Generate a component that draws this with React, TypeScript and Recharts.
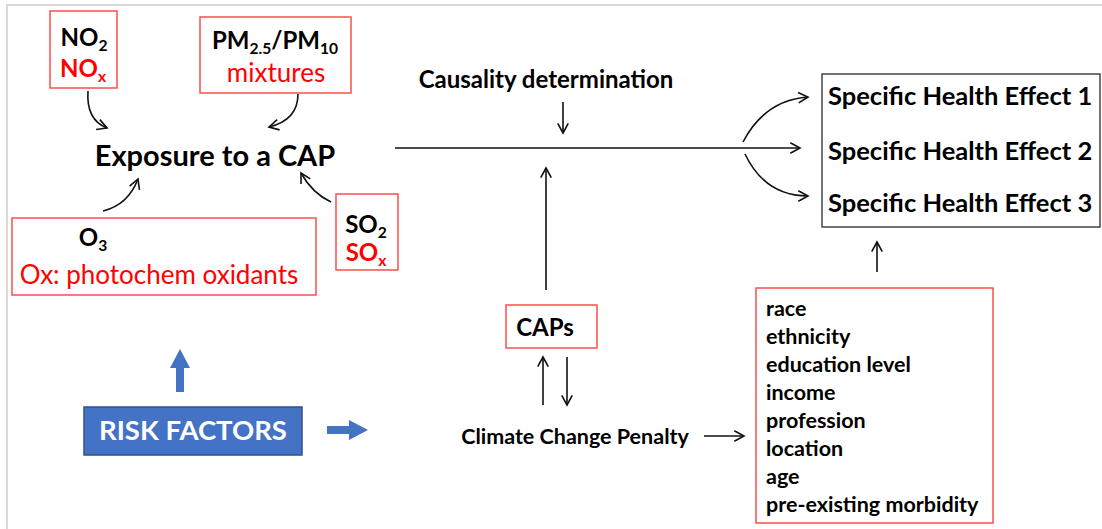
import React from 'react';
import { ScatterChart, Scatter, XAxis, YAxis, ReferenceArea, ReferenceLine } from 'recharts';

// Diagram coordinates follow the original slide: x to the right, y downward.
const WIDTH = 1102;
const HEIGHT = 529;

const healthEffects = ['Specific Health Effect 1', 'Specific Health Effect 2', 'Specific Health Effect 3'];
const effectRowsY = [96, 151, 203];

const modifiers = [
  'race',
  'ethnicity',
  'education level',
  'income',
  'profession',
  'location',
  'age',
  'pre-existing morbidity',
];
const modifierRowsY = [308, 336, 364, 392, 420, 448, 476, 504];

// {..} marks a subscript
const labels = [
  { x: 84, y: 37, text: 'NO{2}', role: 'bold' },
  { x: 83, y: 68, text: 'NO{x}', role: 'boldRed' },
  { x: 275, y: 40, text: 'PM{2.5}/PM{10}', role: 'bold' },
  { x: 276, y: 73, text: 'mixtures', role: 'red' },
  { x: 215, y: 156, text: 'Exposure to a CAP', role: 'title' },
  { x: 93, y: 237, text: 'O{3}', role: 'bold' },
  { x: 159, y: 275, text: 'Ox: photochem oxidants', role: 'red' },
  { x: 366, y: 224, text: 'SO{2}', role: 'bold' },
  { x: 366, y: 252, text: 'SO{x}', role: 'boldRed' },
  { x: 546, y: 79, text: 'Causality determination', role: 'medium' },
  { x: 545, y: 327, text: 'CAPs', role: 'bold' },
  { x: 575, y: 436, text: 'Climate Change Penalty', role: 'small' },
  { x: 193, y: 430, text: 'RISK FACTORS', role: 'risk' },
];

const boxes = [
  { x1: 7, x2: 1110, y1: 5, y2: 540, role: 'frame' },
  { x1: 50, x2: 117, y1: 11, y2: 88, role: 'red' },
  { x1: 200, x2: 351, y1: 17, y2: 93, role: 'red' },
  { x1: 12, x2: 316, y1: 218, y2: 295, role: 'red' },
  { x1: 336, x2: 398, y1: 194, y2: 270, role: 'red' },
  { x1: 822, x2: 1100, y1: 74, y2: 227, role: 'black' },
  { x1: 506, x2: 597, y1: 305, y2: 348, role: 'red' },
  { x1: 756, x2: 993, y1: 288, y2: 523, role: 'red' },
  { x1: 84, x2: 302, y1: 407, y2: 455, role: 'blue' },
];

const straightArrows = [
  { from: [395, 148], to: [800, 148] },
  { from: [563, 102], to: [563, 133] },
  { from: [546, 290], to: [546, 168] },
  { from: [543, 405], to: [543, 357] },
  { from: [567, 357], to: [567, 405] },
  { from: [704, 436], to: [744, 436] },
  { from: [877, 272], to: [877, 242] },
];

const curvedArrows = [
  { from: [743, 142], ctrl: [765, 100], to: [808, 97] },
  { from: [745, 154], ctrl: [765, 196], to: [808, 196] },
  { from: [88, 91], ctrl: [86, 120], to: [107, 128] },
  { from: [298, 94], ctrl: [298, 120], to: [269, 127] },
  { from: [103, 211], ctrl: [128, 205], to: [138, 179] },
  { from: [331, 202], ctrl: [312, 193], to: [301, 173] },
];

const blockArrows = [
  { from: [180, 392], to: [180, 349] },
  { from: [327, 430], to: [368, 430] },
];

const FONT = 'Lato, "Open Sans", sans-serif';
const RED = '#ff0000';
const BLUE = '#4472c4';

const roleStyle: Record<string, any> = {
  bold: { size: 24, weight: 700, fill: '#000' },
  boldRed: { size: 24, weight: 700, fill: RED },
  red: { size: 26, weight: 400, fill: RED },
  title: { size: 29, weight: 700, fill: '#000' },
  medium: { size: 24, weight: 700, fill: '#000' },
  effect: { size: 25.5, weight: 700, fill: '#000', anchor: 'start' },
  modifier: { size: 21.5, weight: 700, fill: '#000', anchor: 'start' },
  small: { size: 21.5, weight: 700, fill: '#000' },
  risk: { size: 27.5, weight: 700, fill: '#fff' },
};

const boxStyle: Record<string, any> = {
  frame: { stroke: '#d9d9d9', fill: 'none', strokeWidth: 2 },
  red: { stroke: '#ff4d4d', fill: 'none', strokeWidth: 1.5 },
  black: { stroke: '#444', fill: 'none', strokeWidth: 1.5 },
  blue: { stroke: '#2f528f', fill: BLUE, strokeWidth: 1.5 },
};

const allLabels = [
  ...labels,
  ...healthEffects.map((text, i) => ({ x: 828, y: effectRowsY[i], text, role: 'effect' })),
  ...modifiers.map((text, i) => ({ x: 766, y: modifierRowsY[i], text, role: 'modifier' })),
];

function richText(text: string, size: number) {
  const parts = text.split(/(\{[^}]*\})/).filter(Boolean);
  const shift = size * 0.22;
  let down = false;
  return parts.map((part, i) => {
    const sub = part.startsWith('{');
    const dy = sub ? shift : down ? -shift : 0;
    down = sub;
    return (
      <tspan key={i} dy={dy} fontSize={sub ? size * 0.65 : size}>
        {sub ? part.slice(1, -1) : part}
      </tspan>
    );
  });
}

const LabelShape = (props: any) => {
  const { cx, cy, payload } = props;
  const s = roleStyle[payload.role];
  return (
    <text
      x={cx}
      y={cy + s.size * 0.36}
      textAnchor={s.anchor || 'middle'}
      fontFamily={FONT}
      fontWeight={s.weight}
      fontSize={s.size}
      fill={s.fill}
    >
      {richText(payload.text, s.size)}
    </text>
  );
};

function head(x: number, y: number, dx: number, dy: number, len = 11, spread = 0.5) {
  const a = Math.atan2(dy, dx);
  const p1 = [x - len * Math.cos(a - spread), y - len * Math.sin(a - spread)];
  const p2 = [x - len * Math.cos(a + spread), y - len * Math.sin(a + spread)];
  return `M${p1[0]},${p1[1]} L${x},${y} L${p2[0]},${p2[1]}`;
}

const straightShape = (p: any) => (
  <g>
    <line x1={p.x1} y1={p.y1} x2={p.x2} y2={p.y2} stroke="#111" strokeWidth={1.6} />
    <path d={head(p.x2, p.y2, p.x2 - p.x1, p.y2 - p.y1)} stroke="#111" strokeWidth={1.6} fill="none" />
  </g>
);

const curveShape = (c: any) => (p: any) => {
  // map the control point with the same scale that placed the end points
  const sx = (p.x2 - p.x1) / (c.to[0] - c.from[0]);
  const sy = (p.y2 - p.y1) / (c.to[1] - c.from[1]);
  const qx = p.x1 + (c.ctrl[0] - c.from[0]) * sx;
  const qy = p.y1 + (c.ctrl[1] - c.from[1]) * sy;
  return (
    <g>
      <path d={`M${p.x1},${p.y1} Q${qx},${qy} ${p.x2},${p.y2}`} stroke="#111" strokeWidth={1.6} fill="none" />
      <path d={head(p.x2, p.y2, p.x2 - qx, p.y2 - qy)} stroke="#111" strokeWidth={1.6} fill="none" />
    </g>
  );
};

const blockShape = (p: any) => {
  const dx = p.x2 - p.x1;
  const dy = p.y2 - p.y1;
  const len = Math.hypot(dx, dy);
  const ux = dx / len;
  const uy = dy / len;
  const nx = -uy;
  const ny = ux;
  const shaft = 4;
  const wing = 10;
  const headLen = 19;
  const bx = p.x2 - ux * headLen;
  const by = p.y2 - uy * headLen;
  const pts = [
    [p.x1 + nx * shaft, p.y1 + ny * shaft],
    [bx + nx * shaft, by + ny * shaft],
    [bx + nx * wing, by + ny * wing],
    [p.x2, p.y2],
    [bx - nx * wing, by - ny * wing],
    [bx - nx * shaft, by - ny * shaft],
    [p.x1 - nx * shaft, p.y1 - ny * shaft],
  ];
  return <polygon points={pts.map((q) => q.join(',')).join(' ')} fill={BLUE} />;
};

export default function App() {
  return (
    <div style={{ position: 'absolute', left: 0, top: 0, background: '#fff' }}>
      <ScatterChart width={WIDTH} height={HEIGHT} margin={{ top: 0, right: 0, bottom: 0, left: 0 }}>
        <XAxis type="number" dataKey="x" domain={[0, WIDTH]} hide allowDataOverflow />
        <YAxis type="number" dataKey="y" domain={[0, HEIGHT]} reversed hide allowDataOverflow />
        {boxes.map((b, i) => (
          <ReferenceArea
            key={`box-${i}`}
            x1={b.x1}
            x2={b.x2}
            y1={b.y1}
            y2={b.y2}
            ifOverflow="visible"
            fillOpacity={1}
            {...boxStyle[b.role]}
          />
        ))}
        {straightArrows.map((a, i) => (
          <ReferenceLine
            key={`arrow-${i}`}
            segment={[
              { x: a.from[0], y: a.from[1] },
              { x: a.to[0], y: a.to[1] },
            ]}
            shape={straightShape}
          />
        ))}
        {curvedArrows.map((c, i) => (
          <ReferenceLine
            key={`curve-${i}`}
            segment={[
              { x: c.from[0], y: c.from[1] },
              { x: c.to[0], y: c.to[1] },
            ]}
            shape={curveShape(c)}
          />
        ))}
        {blockArrows.map((a, i) => (
          <ReferenceLine
            key={`block-${i}`}
            segment={[
              { x: a.from[0], y: a.from[1] },
              { x: a.to[0], y: a.to[1] },
            ]}
            shape={blockShape}
          />
        ))}
        <Scatter data={allLabels} shape={<LabelShape />} isAnimationActive={false} />
      </ScatterChart>
    </div>
  );
}
